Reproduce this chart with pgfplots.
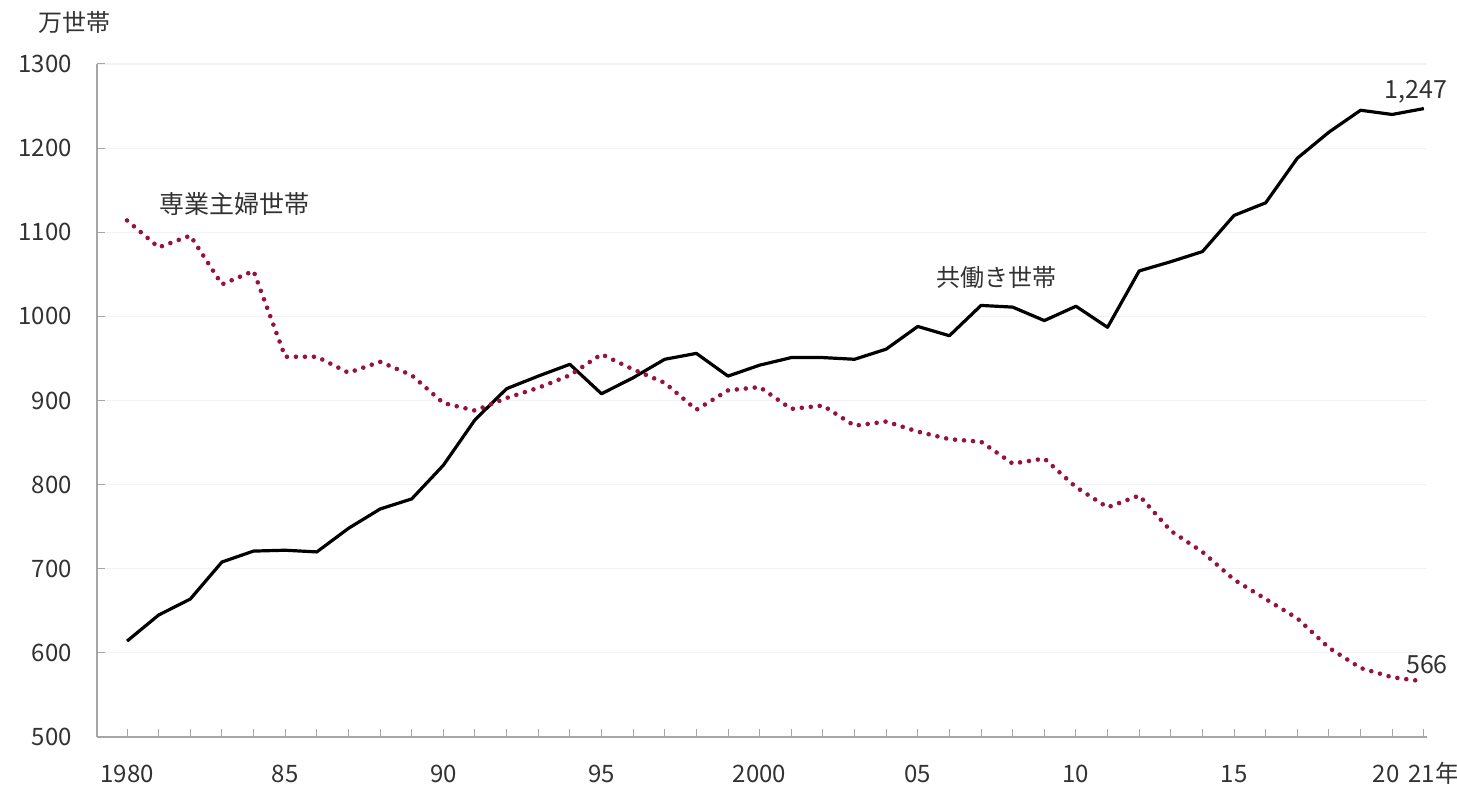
\documentclass[border=0pt]{standalone}
\usepackage{fontspec}
\setmainfont{Noto Sans CJK JP}
\usepackage{pgfplots}
\pgfplotsset{compat=1.18}
\definecolor{hw}{RGB}{150,20,60}
\definecolor{txt}{RGB}{50,50,50}
\begin{document}
\begin{tikzpicture}
\useasboundingbox (-48.5pt,-27.5pt) rectangle (680pt,368.5pt);
\begin{axis}[
  at={(0,0)}, anchor=south west,
  scale only axis, width=665pt, height=336.5pt,
  xmin=1979.05, xmax=2021.1, ymin=500, ymax=1300,
  axis x line*=bottom, axis y line*=left,
  axis line style={draw=gray!70, line width=0.6pt},
  ytick={500,600,...,1300},
  xtick={1980,1985,1990,1995,2000,2005,2010,2015,2020,2021},
  xticklabels={1980,85,90,95,2000,05,10,15,\hspace*{-6pt}20,\hspace*{10pt}21年},
  minor xtick={1981,1982,1983,1984,1986,1987,1988,1989,1991,1992,1993,1994,1996,1997,1998,1999,2001,2002,2003,2004,2006,2007,2008,2009,2011,2012,2013,2014,2016,2017,2018,2019},
  tick style={draw=gray!70, line width=0.5pt},
  major tick length=4pt, minor tick length=4pt,
  tick align=inside,
  ymajorgrids, major grid style={draw=gray!10, line width=0.6pt},
  /pgf/number format/assume math mode=true,
  /pgf/number format/1000 sep={},
  ticklabel style={font=\fontsize{12}{14}\selectfont, text=txt},
  xticklabel style={yshift=-10pt, text height=9pt, text depth=2pt},
  yticklabel style={xshift=-9pt},
  clip=false,
]
\addplot[black, line width=1.6pt, line join=round] coordinates {
(1980,614)(1981,645)(1982,664)(1983,708)(1984,721)(1985,722)(1986,720)(1987,748)(1988,771)(1989,783)
(1990,823)(1991,877)(1992,914)(1993,929)(1994,943)(1995,908)(1996,927)(1997,949)(1998,956)(1999,929)
(2000,942)(2001,951)(2002,951)(2003,949)(2004,961)(2005,988)(2006,977)(2007,1013)(2008,1011)(2009,995)
(2010,1012)(2011,987)(2012,1054)(2013,1065)(2014,1077)(2015,1120)(2016,1135)(2017,1188)(2018,1219)(2019,1245)
(2020,1240)(2021,1247)};
\addplot[hw, line width=2.3pt, line cap=round, dash pattern=on 0pt off 4.5pt] coordinates {
(1980,1114)(1981,1082)(1982,1096)(1983,1038)(1984,1054)(1985,952)(1986,952)(1987,933)(1988,946)(1989,930)
(1990,897)(1991,888)(1992,903)(1993,915)(1994,930)(1995,955)(1996,937)(1997,921)(1998,889)(1999,912)
(2000,916)(2001,890)(2002,894)(2003,870)(2004,875)(2005,863)(2006,854)(2007,851)(2008,825)(2009,831)
(2010,797)(2011,773)(2012,787)(2013,745)(2014,720)(2015,687)(2016,664)(2017,641)(2018,606)(2019,582)
(2020,571)(2021,566)};
\node[font=\fontsize{12}{14}\selectfont, text=txt] at (rel axis cs:0,1) [xshift=-11pt, yshift=21pt] {万世帯};
\node[font=\fontsize{12.5}{14}\selectfont, text=txt] at (axis cs:1983.4,1133) {専業主婦世帯};
\node[font=\fontsize{12}{14}\selectfont, text=txt] at (axis cs:2007.5,1046) {共働き世帯};
\node[font=\fontsize{12.5}{14}\selectfont, text=txt] at (axis cs:2020.75,1267) {1,247};
\node[font=\fontsize{12.5}{14}\selectfont, text=txt] at (axis cs:2021.1,586) {566};
\end{axis}
\end{tikzpicture}
\end{document}
